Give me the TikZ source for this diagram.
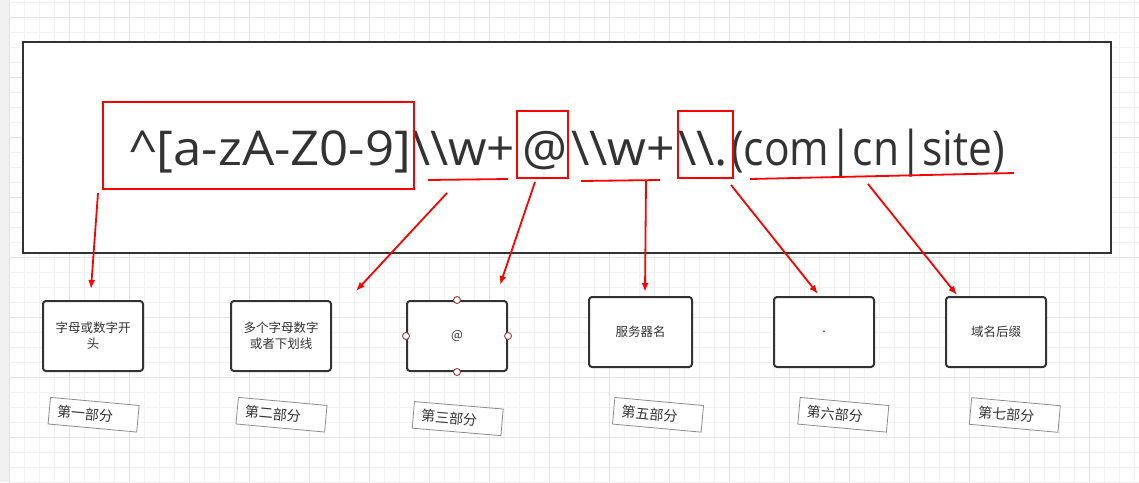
\documentclass[tikz,border=0pt]{standalone}
\usepackage{fontspec}
\setmainfont{Open Sans}
\newfontfamily\cjk{Noto Sans CJK SC}
\usetikzlibrary{arrows.meta}
\definecolor{txt}{HTML}{333333}
\definecolor{edge}{HTML}{333333}
\definecolor{redc}{HTML}{FF0000}
\definecolor{gridminor}{HTML}{F1F1F1}
\definecolor{gridmajor}{HTML}{E3E3E3}
\definecolor{strip}{HTML}{F0F0F0}
\definecolor{handle}{HTML}{A33A3A}
\definecolor{lblborder}{HTML}{8C8C8C}
\newcommand{\bsl}{\textbackslash}
\begin{document}
\begin{tikzpicture}[x=1pt,y=-1pt,
  bigbox/.style={draw=edge, line width=2pt, fill=white, inner sep=0pt, anchor=north west},
  redbox/.style={draw=redc, line width=1.8pt, inner sep=0pt, anchor=north west},
  redline/.style={draw=redc, line width=1.8pt},
  redarrow/.style={draw=redc, line width=1.8pt, -{Latex[length=9pt,width=7pt]}, fill=redc},
  seg/.style={anchor=base west, inner sep=0pt, text=txt, font=\fontsize{48}{48}\selectfont},
  stepbox/.style={draw=edge, line width=2pt, fill=white, rounded corners=3pt,
    minimum width=100pt, minimum height=70pt, inner sep=0pt, align=center,
    text=txt, font=\cjk\fontsize{12.5}{16}\selectfont},
  lbl/.style={draw=lblborder, line width=0.8pt, fill=white, text=txt,
    text width=73pt, inner xsep=8pt, inner ysep=0pt, minimum height=26.7pt,
    align=left, font=\cjk\fontsize{14}{16}\selectfont, rotate=-5.2},
  handlept/.style={circle, draw=handle, fill=white, line width=0.9pt, minimum size=7pt, inner sep=0pt}
]
\useasboundingbox (0,0) rectangle (1139,482);
\fill[white] (0,0) rectangle (1139,482);
\fill[strip] (0,0) rectangle (9,482);
\foreach \x in {24.3,39.3,...,1139} \draw[gridminor, line width=0.9pt] (\x,0) -- (\x,482);
\foreach \y in {2,17,...,482} \draw[gridminor, line width=0.9pt] (9,\y) -- (1139,\y);
\foreach \x in {9.3,69.3,...,1139} \draw[gridmajor, line width=0.9pt] (\x,0) -- (\x,482);
\foreach \y in {17,77,...,482} \draw[gridmajor, line width=0.9pt] (9,\y) -- (1139,\y);

% main frame
\node[bigbox, minimum width=1088pt, minimum height=211pt] (frame) at (22,41) {};
% regex, in segments
\node[seg] (s1) at (129,165) {\resizebox{282pt}{\height}{\textasciicircum[a-zA-Z0-9]}};
\node[seg] (s2) at (412,165) {\resizebox{103pt}{\height}{\bsl\bsl w+}};
\node[seg] (s3) at (522,165) {\resizebox{45pt}{\height}{@}};
\node[seg] (s4) at (571,165) {\resizebox{104pt}{\height}{\bsl\bsl w+}};
\node[seg] (s5) at (678,165) {\resizebox{50pt}{\height}{\bsl\bsl.}};
\node[seg] (s6) at (731,165) {\resizebox{274pt}{\height}{(com|cn|site)}};

% red markers
\node[redbox, minimum width=311pt, minimum height=87pt] (r1) at (102,101) {};
\node[redbox, minimum width=51pt, minimum height=67pt] (r2) at (516,110) {};
\node[redbox, minimum width=55pt, minimum height=67pt] (r3) at (677,110) {};
\coordinate (u1a) at (428,180); \coordinate (u1b) at (508,179);
\coordinate (u2a) at (581,181); \coordinate (u2b) at (660,180);
\coordinate (u3a) at (750,179); \coordinate (u3b) at (1014,173);
\draw[redline] (u1a) -- (u1b);
\draw[redline] (u2a) -- (u2b);
\draw[redline] (u3a) -- (u3b);

% step boxes
\node[stepbox] (b1) at (93,336) {字母或数字开\\头};
\node[stepbox] (b2) at (281,336) {多个字母数字\\或者下划线};
\node[stepbox] (b3) at (457,336) {@};
\node[stepbox, minimum width=103pt] (b4) at (640.5,332) {服务器名};
\node[stepbox] (b5) at (824,332) {.};
\node[stepbox] (b6) at (996,332) {域名后缀};
\foreach \a in {north,south,east,west} \node[handlept] at (b3.\a) {};

% arrows
\coordinate (a1s) at (98,193);  \coordinate (a1e) at (91,289);
\coordinate (a2s) at (447,193); \coordinate (a2e) at (356,291);
\coordinate (a3s) at (535,182); \coordinate (a3e) at (500,285);
\coordinate (a4s) at (646,181); \coordinate (a4e) at (645,292);
\coordinate (a5s) at (731,185); \coordinate (a5e) at (818,294);
\coordinate (a6s) at (868,184); \coordinate (a6e) at (957,295);
\draw[redarrow] (a1s) -- (a1e);
\draw[redarrow] (a2s) -- (a2e);
\draw[redarrow] (a3s) -- (a3e);
\draw[redarrow] (a4s) -- (a4e);
\draw[redarrow] (a5s) -- (a5e);
\draw[redarrow] (a6s) -- (a6e);

% part labels
\node[lbl] (l1) at (93.6,414.7) {第一部分};
\node[lbl] (l2) at (281.5,414.7) {第二部分};
\node[lbl, rotate=0.4] (l3) at (457.7,418.6) {第三部分};
\node[lbl] (l5) at (658,414.8) {第五部分};
\node[lbl] (l6) at (843.3,414.8) {第六部分};
\node[lbl] (l7) at (1014.8,415) {第七部分};
\end{tikzpicture}
\end{document}
